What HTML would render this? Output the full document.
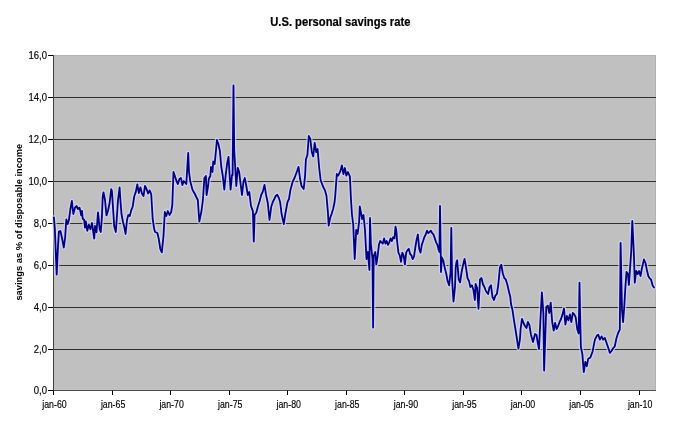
<!DOCTYPE html>
<html><head><meta charset="utf-8"><style>
html,body{margin:0;padding:0;background:#fff;}
svg{display:block;}
#w{width:680px;height:423px;will-change:transform;}
</style></head><body><div id="w">
<svg width="680" height="423" viewBox="0 0 680 423" font-family='"Liberation Sans", sans-serif'>
<rect x="0" y="0" width="680" height="423" fill="#fff"/>
<text transform="translate(340.3,26) scale(0.935,1)" text-anchor="middle" font-size="12" font-weight="bold" fill="#000" stroke="#000" stroke-width="0.2">U.S. personal savings rate</text>
<rect x="53" y="55" width="603" height="336" fill="#c0c0c0"/>
<line x1="53" y1="55.5" x2="656" y2="55.5" stroke="#b2b2b2" stroke-width="1"/>
<line x1="655.5" y1="55" x2="655.5" y2="391" stroke="#b2b2b2" stroke-width="1"/>
<line x1="48" y1="55.5" x2="53.5" y2="55.5" stroke="#000" stroke-width="1"/><line x1="53.5" y1="97.5" x2="656" y2="97.5" stroke="#303030" stroke-width="1"/><line x1="48" y1="97.5" x2="53.5" y2="97.5" stroke="#000" stroke-width="1"/><line x1="53.5" y1="139.5" x2="656" y2="139.5" stroke="#303030" stroke-width="1"/><line x1="48" y1="139.5" x2="53.5" y2="139.5" stroke="#000" stroke-width="1"/><line x1="53.5" y1="181.5" x2="656" y2="181.5" stroke="#303030" stroke-width="1"/><line x1="48" y1="181.5" x2="53.5" y2="181.5" stroke="#000" stroke-width="1"/><line x1="53.5" y1="223.5" x2="656" y2="223.5" stroke="#303030" stroke-width="1"/><line x1="48" y1="223.5" x2="53.5" y2="223.5" stroke="#000" stroke-width="1"/><line x1="53.5" y1="265.5" x2="656" y2="265.5" stroke="#303030" stroke-width="1"/><line x1="48" y1="265.5" x2="53.5" y2="265.5" stroke="#000" stroke-width="1"/><line x1="53.5" y1="307.5" x2="656" y2="307.5" stroke="#303030" stroke-width="1"/><line x1="48" y1="307.5" x2="53.5" y2="307.5" stroke="#000" stroke-width="1"/><line x1="53.5" y1="349.5" x2="656" y2="349.5" stroke="#303030" stroke-width="1"/><line x1="48" y1="349.5" x2="53.5" y2="349.5" stroke="#000" stroke-width="1"/><line x1="48" y1="390.5" x2="53.5" y2="390.5" stroke="#000" stroke-width="1"/>
<line x1="53.5" y1="55" x2="53.5" y2="391" stroke="#404040" stroke-width="1"/>
<line x1="53" y1="390.5" x2="656" y2="390.5" stroke="#505050" stroke-width="1"/>
<line x1="53.5" y1="390.5" x2="53.5" y2="395" stroke="#000" stroke-width="1"/><line x1="112.5" y1="390.5" x2="112.5" y2="395" stroke="#000" stroke-width="1"/><line x1="170.5" y1="390.5" x2="170.5" y2="395" stroke="#000" stroke-width="1"/><line x1="229.5" y1="390.5" x2="229.5" y2="395" stroke="#000" stroke-width="1"/><line x1="287.5" y1="390.5" x2="287.5" y2="395" stroke="#000" stroke-width="1"/><line x1="346.5" y1="390.5" x2="346.5" y2="395" stroke="#000" stroke-width="1"/><line x1="404.5" y1="390.5" x2="404.5" y2="395" stroke="#000" stroke-width="1"/><line x1="463.5" y1="390.5" x2="463.5" y2="395" stroke="#000" stroke-width="1"/><line x1="521.5" y1="390.5" x2="521.5" y2="395" stroke="#000" stroke-width="1"/><line x1="580.5" y1="390.5" x2="580.5" y2="395" stroke="#000" stroke-width="1"/><line x1="639.5" y1="390.5" x2="639.5" y2="395" stroke="#000" stroke-width="1"/>
<g font-size="10" fill="#000" stroke="#000" stroke-width="0.15"><text transform="translate(47,58.9) scale(0.95,1)" text-anchor="end">16,0</text><text transform="translate(47,100.9) scale(0.95,1)" text-anchor="end">14,0</text><text transform="translate(47,142.9) scale(0.95,1)" text-anchor="end">12,0</text><text transform="translate(47,184.9) scale(0.95,1)" text-anchor="end">10,0</text><text transform="translate(47,226.9) scale(0.95,1)" text-anchor="end">8,0</text><text transform="translate(47,268.9) scale(0.95,1)" text-anchor="end">6,0</text><text transform="translate(47,310.9) scale(0.95,1)" text-anchor="end">4,0</text><text transform="translate(47,352.9) scale(0.95,1)" text-anchor="end">2,0</text><text transform="translate(47,393.9) scale(0.95,1)" text-anchor="end">0,0</text><text transform="translate(54.5,407.5) scale(0.88,1)" text-anchor="middle">jan-60</text><text transform="translate(113.1,407.5) scale(0.88,1)" text-anchor="middle">jan-65</text><text transform="translate(171.6,407.5) scale(0.88,1)" text-anchor="middle">jan-70</text><text transform="translate(230.2,407.5) scale(0.88,1)" text-anchor="middle">jan-75</text><text transform="translate(288.7,407.5) scale(0.88,1)" text-anchor="middle">jan-80</text><text transform="translate(347.3,407.5) scale(0.88,1)" text-anchor="middle">jan-85</text><text transform="translate(405.9,407.5) scale(0.88,1)" text-anchor="middle">jan-90</text><text transform="translate(464.4,407.5) scale(0.88,1)" text-anchor="middle">jan-95</text><text transform="translate(523.0,407.5) scale(0.88,1)" text-anchor="middle">jan-00</text><text transform="translate(581.5,407.5) scale(0.88,1)" text-anchor="middle">jan-05</text><text transform="translate(640.1,407.5) scale(0.88,1)" text-anchor="middle">jan-10</text></g>
<text transform="translate(22,222.2) rotate(-90)" text-anchor="middle" font-size="9.35" font-weight="bold" fill="#000">savings as % of disposable income</text>
<path d="M53.9,217.4 L54.8,228.0 L55.8,253.0 L56.7,274.5 L57.8,250.0 L58.9,231.6 L60.4,231.0 L62.0,238.0 L63.8,247.5 L65.1,238.0 L66.3,219.5 L67.7,224.0 L68.9,220.0 L70.4,209.0 L71.9,201.0 L73.3,214.0 L75.0,207.7 L76.5,206.0 L78.0,209.0 L79.6,207.7 L81.2,215.4 L82.0,210.8 L82.7,218.5 L84.2,220.0 L85.0,227.7 L85.8,221.5 L87.3,230.8 L88.8,224.6 L90.4,229.2 L92.0,223.0 L94.2,238.5 L95.0,226.0 L96.5,232.3 L98.0,212.3 L98.8,220.0 L99.6,229.0 L100.8,232.0 L101.9,216.9 L102.7,197.0 L103.5,192.3 L105.0,200.0 L106.5,215.4 L108.0,210.8 L109.6,203.0 L111.2,189.2 L111.9,190.8 L112.7,203.0 L114.2,226.0 L115.8,232.0 L117.3,210.8 L118.0,200.0 L119.6,187.5 L120.4,200.0 L121.5,214.0 L123.0,222.0 L124.3,227.0 L125.6,234.0 L127.0,220.0 L128.3,215.0 L129.8,216.0 L131.2,210.4 L132.7,206.5 L134.2,196.5 L135.8,191.9 L137.3,184.5 L138.8,193.0 L140.4,187.3 L141.9,193.5 L143.5,196.0 L145.0,186.0 L146.5,189.0 L148.1,193.5 L149.6,190.4 L151.2,194.0 L151.9,205.8 L152.7,219.0 L154.2,229.0 L155.1,232.0 L157.4,233.0 L158.8,239.0 L160.3,249.0 L161.8,252.4 L163.5,236.0 L164.8,212.0 L166.3,216.0 L167.8,211.0 L169.5,215.0 L171.2,212.0 L172.3,205.0 L173.5,172.0 L173.5,172.0 L176.5,181.0 L177.9,184.0 L179.4,179.0 L180.9,178.0 L182.4,185.0 L183.8,181.0 L186.3,184.0 L188.2,153.0 L189.0,172.0 L190.4,182.0 L192.6,190.0 L194.9,194.0 L196.3,197.0 L197.8,200.0 L199.3,221.5 L201.5,211.0 L202.9,200.0 L204.4,178.0 L205.9,176.0 L206.6,195.0 L208.1,186.0 L208.8,179.0 L210.3,176.0 L211.0,167.0 L212.5,172.0 L213.2,161.5 L214.7,164.0 L216.2,148.0 L216.9,140.0 L218.4,144.0 L219.9,151.0 L221.3,167.0 L222.8,176.0 L224.3,189.6 L225.7,175.0 L227.2,163.0 L228.5,157.0 L229.6,175.0 L230.6,189.6 L232.0,175.0 L232.6,175.0 L233.5,85.4 L234.2,150.0 L236.3,186.0 L237.8,168.0 L239.2,172.0 L240.6,184.0 L242.0,195.0 L243.4,182.0 L244.8,178.0 L246.3,186.0 L247.8,195.0 L249.3,192.0 L251.0,206.0 L251.2,206.5 L252.9,211.4 L253.8,241.5 L254.6,214.7 L256.2,213.0 L257.9,206.5 L259.5,201.5 L261.2,195.0 L262.8,191.6 L264.5,184.9 L266.1,195.0 L267.8,203.0 L269.5,220.0 L271.3,206.5 L272.8,202.0 L274.3,199.0 L275.7,196.0 L277.2,194.7 L278.7,197.6 L280.1,202.0 L281.6,214.0 L283.8,224.0 L285.3,214.0 L287.5,202.0 L289.0,199.0 L290.4,190.0 L292.6,182.0 L294.9,177.0 L297.1,171.0 L298.5,166.8 L300.0,178.5 L301.5,186.0 L303.7,189.0 L305.1,175.6 L305.9,159.4 L307.4,155.0 L308.8,136.0 L310.3,139.0 L311.8,152.0 L313.2,156.5 L314.7,143.0 L316.2,152.0 L317.6,149.0 L319.1,167.0 L320.6,180.0 L322.8,186.0 L325.0,190.5 L326.5,196.0 L327.9,212.0 L328.7,225.6 L330.1,218.0 L331.6,214.0 L333.1,209.0 L334.6,202.0 L335.3,195.0 L336.8,174.0 L338.2,175.6 L340.4,171.0 L341.9,165.3 L343.4,174.0 L344.9,168.0 L346.3,175.6 L348.0,172.0 L349.9,176.6 L351.0,200.0 L352.0,215.0 L353.2,224.0 L354.7,259.0 L356.2,230.0 L357.6,234.0 L359.1,222.0 L359.8,206.4 L362.1,219.0 L363.5,215.0 L365.0,230.0 L366.5,259.0 L367.9,252.0 L369.4,270.0 L370.0,218.0 L370.9,244.0 L372.5,259.0 L373.1,327.5 L373.7,256.0 L375.3,252.0 L376.3,264.4 L377.6,256.6 L378.9,244.9 L380.2,241.0 L381.5,242.3 L382.8,243.6 L384.1,238.4 L385.4,243.6 L386.7,241.0 L388.0,244.9 L389.3,242.3 L390.6,238.4 L391.9,241.0 L393.2,237.1 L394.5,238.4 L395.5,226.7 L396.5,231.9 L397.1,241.0 L398.4,252.7 L399.7,255.3 L401.0,261.8 L402.3,252.7 L403.6,255.3 L404.9,264.4 L406.2,252.7 L407.5,250.1 L408.8,248.8 L410.1,254.0 L411.4,255.3 L412.7,259.2 L414.0,256.6 L415.3,247.5 L416.6,239.7 L417.9,234.5 L419.2,248.8 L420.5,252.7 L421.8,244.9 L423.1,241.0 L424.4,237.1 L425.7,234.5 L427.0,230.6 L428.3,233.2 L429.6,231.9 L430.9,230.6 L432.2,233.2 L433.5,234.5 L434.8,238.4 L436.1,242.3 L437.4,244.9 L438.7,250.0 L439.4,252.0 L440.0,206.0 L440.6,244.0 L441.0,272.0 L441.8,257.4 L443.2,260.3 L444.7,267.6 L446.2,273.5 L447.6,281.0 L449.1,285.3 L450.6,272.0 L451.3,228.0 L452.1,279.4 L453.5,301.5 L455.0,287.0 L455.7,267.6 L456.5,262.0 L457.2,260.3 L458.7,279.4 L460.1,282.4 L461.6,272.0 L463.1,264.7 L464.6,258.8 L466.0,267.6 L467.5,278.0 L469.0,281.0 L470.4,287.0 L471.9,285.3 L473.4,289.7 L474.9,300.0 L475.6,284.0 L477.1,288.0 L478.5,308.8 L480.0,279.4 L481.5,278.0 L482.9,284.0 L484.4,287.0 L485.9,291.0 L488.1,294.0 L489.6,287.0 L491.0,285.3 L492.5,297.0 L494.0,300.0 L495.4,295.6 L496.9,294.0 L498.4,284.0 L499.9,267.6 L501.3,264.7 L502.8,273.5 L504.3,278.0 L505.7,279.4 L507.2,284.0 L508.8,291.0 L510.3,297.0 L511.0,304.0 L512.5,310.0 L514.0,320.3 L515.4,329.0 L516.5,336.0 L518.4,348.5 L519.9,339.7 L520.6,329.0 L522.0,318.8 L523.5,323.0 L525.0,326.0 L526.5,328.0 L527.9,322.0 L529.4,325.0 L531.0,335.0 L533.0,342.0 L535.0,334.0 L536.5,335.0 L537.8,343.0 L539.0,349.0 L540.4,320.0 L541.9,292.4 L543.4,314.0 L544.1,370.6 L545.5,330.0 L546.3,307.0 L547.8,305.6 L549.3,313.0 L550.7,302.6 L552.2,322.0 L553.7,330.6 L555.1,323.0 L556.6,329.0 L558.1,326.0 L559.6,322.0 L561.0,319.0 L562.5,314.4 L564.0,308.5 L565.4,324.7 L566.9,316.0 L568.4,320.3 L569.9,314.4 L571.3,322.0 L572.8,313.0 L574.3,314.4 L575.7,317.4 L577.2,329.0 L578.7,333.5 L579.5,282.6 L580.1,314.0 L580.9,347.0 L582.4,354.4 L583.8,372.1 L585.3,361.8 L586.8,366.2 L588.2,358.8 L590.4,357.4 L592.6,351.5 L594.9,339.7 L597.1,335.3 L598.3,334.7 L599.9,339.7 L601.6,336.4 L603.2,339.7 L604.9,338.0 L606.6,343.0 L608.3,348.0 L609.9,352.9 L611.5,351.0 L613.2,348.0 L614.8,346.3 L616.5,338.0 L618.1,333.0 L619.8,329.7 L620.6,243.0 L622.0,310.0 L623.1,322.2 L624.3,306.0 L625.4,287.0 L626.5,272.0 L627.9,273.7 L628.9,285.0 L630.2,266.0 L631.2,252.0 L632.3,221.0 L633.8,252.0 L634.8,282.6 L636.2,271.0 L637.7,274.0 L639.1,271.0 L640.5,276.0 L641.9,268.4 L644.0,259.5 L645.5,263.0 L646.9,270.0 L648.3,276.0 L649.7,278.3 L651.1,279.7 L652.6,285.4 L654.0,287.5" fill="none" stroke="#d4d4ff" stroke-opacity="0.75" stroke-width="4.4" stroke-linejoin="round" stroke-linecap="round"/>
<path d="M53.9,217.4 L54.8,228.0 L55.8,253.0 L56.7,274.5 L57.8,250.0 L58.9,231.6 L60.4,231.0 L62.0,238.0 L63.8,247.5 L65.1,238.0 L66.3,219.5 L67.7,224.0 L68.9,220.0 L70.4,209.0 L71.9,201.0 L73.3,214.0 L75.0,207.7 L76.5,206.0 L78.0,209.0 L79.6,207.7 L81.2,215.4 L82.0,210.8 L82.7,218.5 L84.2,220.0 L85.0,227.7 L85.8,221.5 L87.3,230.8 L88.8,224.6 L90.4,229.2 L92.0,223.0 L94.2,238.5 L95.0,226.0 L96.5,232.3 L98.0,212.3 L98.8,220.0 L99.6,229.0 L100.8,232.0 L101.9,216.9 L102.7,197.0 L103.5,192.3 L105.0,200.0 L106.5,215.4 L108.0,210.8 L109.6,203.0 L111.2,189.2 L111.9,190.8 L112.7,203.0 L114.2,226.0 L115.8,232.0 L117.3,210.8 L118.0,200.0 L119.6,187.5 L120.4,200.0 L121.5,214.0 L123.0,222.0 L124.3,227.0 L125.6,234.0 L127.0,220.0 L128.3,215.0 L129.8,216.0 L131.2,210.4 L132.7,206.5 L134.2,196.5 L135.8,191.9 L137.3,184.5 L138.8,193.0 L140.4,187.3 L141.9,193.5 L143.5,196.0 L145.0,186.0 L146.5,189.0 L148.1,193.5 L149.6,190.4 L151.2,194.0 L151.9,205.8 L152.7,219.0 L154.2,229.0 L155.1,232.0 L157.4,233.0 L158.8,239.0 L160.3,249.0 L161.8,252.4 L163.5,236.0 L164.8,212.0 L166.3,216.0 L167.8,211.0 L169.5,215.0 L171.2,212.0 L172.3,205.0 L173.5,172.0 L173.5,172.0 L176.5,181.0 L177.9,184.0 L179.4,179.0 L180.9,178.0 L182.4,185.0 L183.8,181.0 L186.3,184.0 L188.2,153.0 L189.0,172.0 L190.4,182.0 L192.6,190.0 L194.9,194.0 L196.3,197.0 L197.8,200.0 L199.3,221.5 L201.5,211.0 L202.9,200.0 L204.4,178.0 L205.9,176.0 L206.6,195.0 L208.1,186.0 L208.8,179.0 L210.3,176.0 L211.0,167.0 L212.5,172.0 L213.2,161.5 L214.7,164.0 L216.2,148.0 L216.9,140.0 L218.4,144.0 L219.9,151.0 L221.3,167.0 L222.8,176.0 L224.3,189.6 L225.7,175.0 L227.2,163.0 L228.5,157.0 L229.6,175.0 L230.6,189.6 L232.0,175.0 L232.6,175.0 L233.5,85.4 L234.2,150.0 L236.3,186.0 L237.8,168.0 L239.2,172.0 L240.6,184.0 L242.0,195.0 L243.4,182.0 L244.8,178.0 L246.3,186.0 L247.8,195.0 L249.3,192.0 L251.0,206.0 L251.2,206.5 L252.9,211.4 L253.8,241.5 L254.6,214.7 L256.2,213.0 L257.9,206.5 L259.5,201.5 L261.2,195.0 L262.8,191.6 L264.5,184.9 L266.1,195.0 L267.8,203.0 L269.5,220.0 L271.3,206.5 L272.8,202.0 L274.3,199.0 L275.7,196.0 L277.2,194.7 L278.7,197.6 L280.1,202.0 L281.6,214.0 L283.8,224.0 L285.3,214.0 L287.5,202.0 L289.0,199.0 L290.4,190.0 L292.6,182.0 L294.9,177.0 L297.1,171.0 L298.5,166.8 L300.0,178.5 L301.5,186.0 L303.7,189.0 L305.1,175.6 L305.9,159.4 L307.4,155.0 L308.8,136.0 L310.3,139.0 L311.8,152.0 L313.2,156.5 L314.7,143.0 L316.2,152.0 L317.6,149.0 L319.1,167.0 L320.6,180.0 L322.8,186.0 L325.0,190.5 L326.5,196.0 L327.9,212.0 L328.7,225.6 L330.1,218.0 L331.6,214.0 L333.1,209.0 L334.6,202.0 L335.3,195.0 L336.8,174.0 L338.2,175.6 L340.4,171.0 L341.9,165.3 L343.4,174.0 L344.9,168.0 L346.3,175.6 L348.0,172.0 L349.9,176.6 L351.0,200.0 L352.0,215.0 L353.2,224.0 L354.7,259.0 L356.2,230.0 L357.6,234.0 L359.1,222.0 L359.8,206.4 L362.1,219.0 L363.5,215.0 L365.0,230.0 L366.5,259.0 L367.9,252.0 L369.4,270.0 L370.0,218.0 L370.9,244.0 L372.5,259.0 L373.1,327.5 L373.7,256.0 L375.3,252.0 L376.3,264.4 L377.6,256.6 L378.9,244.9 L380.2,241.0 L381.5,242.3 L382.8,243.6 L384.1,238.4 L385.4,243.6 L386.7,241.0 L388.0,244.9 L389.3,242.3 L390.6,238.4 L391.9,241.0 L393.2,237.1 L394.5,238.4 L395.5,226.7 L396.5,231.9 L397.1,241.0 L398.4,252.7 L399.7,255.3 L401.0,261.8 L402.3,252.7 L403.6,255.3 L404.9,264.4 L406.2,252.7 L407.5,250.1 L408.8,248.8 L410.1,254.0 L411.4,255.3 L412.7,259.2 L414.0,256.6 L415.3,247.5 L416.6,239.7 L417.9,234.5 L419.2,248.8 L420.5,252.7 L421.8,244.9 L423.1,241.0 L424.4,237.1 L425.7,234.5 L427.0,230.6 L428.3,233.2 L429.6,231.9 L430.9,230.6 L432.2,233.2 L433.5,234.5 L434.8,238.4 L436.1,242.3 L437.4,244.9 L438.7,250.0 L439.4,252.0 L440.0,206.0 L440.6,244.0 L441.0,272.0 L441.8,257.4 L443.2,260.3 L444.7,267.6 L446.2,273.5 L447.6,281.0 L449.1,285.3 L450.6,272.0 L451.3,228.0 L452.1,279.4 L453.5,301.5 L455.0,287.0 L455.7,267.6 L456.5,262.0 L457.2,260.3 L458.7,279.4 L460.1,282.4 L461.6,272.0 L463.1,264.7 L464.6,258.8 L466.0,267.6 L467.5,278.0 L469.0,281.0 L470.4,287.0 L471.9,285.3 L473.4,289.7 L474.9,300.0 L475.6,284.0 L477.1,288.0 L478.5,308.8 L480.0,279.4 L481.5,278.0 L482.9,284.0 L484.4,287.0 L485.9,291.0 L488.1,294.0 L489.6,287.0 L491.0,285.3 L492.5,297.0 L494.0,300.0 L495.4,295.6 L496.9,294.0 L498.4,284.0 L499.9,267.6 L501.3,264.7 L502.8,273.5 L504.3,278.0 L505.7,279.4 L507.2,284.0 L508.8,291.0 L510.3,297.0 L511.0,304.0 L512.5,310.0 L514.0,320.3 L515.4,329.0 L516.5,336.0 L518.4,348.5 L519.9,339.7 L520.6,329.0 L522.0,318.8 L523.5,323.0 L525.0,326.0 L526.5,328.0 L527.9,322.0 L529.4,325.0 L531.0,335.0 L533.0,342.0 L535.0,334.0 L536.5,335.0 L537.8,343.0 L539.0,349.0 L540.4,320.0 L541.9,292.4 L543.4,314.0 L544.1,370.6 L545.5,330.0 L546.3,307.0 L547.8,305.6 L549.3,313.0 L550.7,302.6 L552.2,322.0 L553.7,330.6 L555.1,323.0 L556.6,329.0 L558.1,326.0 L559.6,322.0 L561.0,319.0 L562.5,314.4 L564.0,308.5 L565.4,324.7 L566.9,316.0 L568.4,320.3 L569.9,314.4 L571.3,322.0 L572.8,313.0 L574.3,314.4 L575.7,317.4 L577.2,329.0 L578.7,333.5 L579.5,282.6 L580.1,314.0 L580.9,347.0 L582.4,354.4 L583.8,372.1 L585.3,361.8 L586.8,366.2 L588.2,358.8 L590.4,357.4 L592.6,351.5 L594.9,339.7 L597.1,335.3 L598.3,334.7 L599.9,339.7 L601.6,336.4 L603.2,339.7 L604.9,338.0 L606.6,343.0 L608.3,348.0 L609.9,352.9 L611.5,351.0 L613.2,348.0 L614.8,346.3 L616.5,338.0 L618.1,333.0 L619.8,329.7 L620.6,243.0 L622.0,310.0 L623.1,322.2 L624.3,306.0 L625.4,287.0 L626.5,272.0 L627.9,273.7 L628.9,285.0 L630.2,266.0 L631.2,252.0 L632.3,221.0 L633.8,252.0 L634.8,282.6 L636.2,271.0 L637.7,274.0 L639.1,271.0 L640.5,276.0 L641.9,268.4 L644.0,259.5 L645.5,263.0 L646.9,270.0 L648.3,276.0 L649.7,278.3 L651.1,279.7 L652.6,285.4 L654.0,287.5" fill="none" stroke="#000080" stroke-width="1.8" stroke-linejoin="round" stroke-linecap="round"/>
</svg></div>
</body></html>
